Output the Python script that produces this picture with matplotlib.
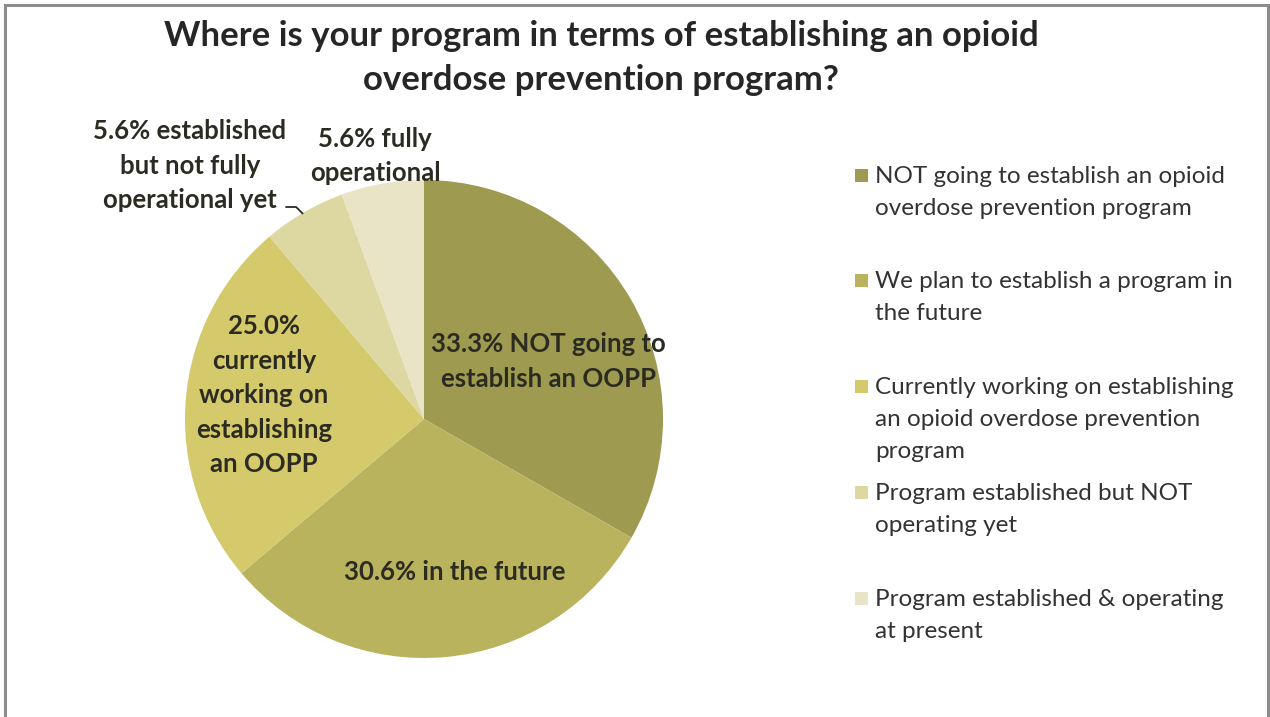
import matplotlib
matplotlib.use("Agg")
import matplotlib.pyplot as plt
from matplotlib.patches import Rectangle
import numpy as np

plt.rcParams['font.family'] = ['Lato', 'DejaVu Sans']

# Survey responses (percent of programs)
categories = [
    "NOT going to establish an opioid\noverdose prevention program",
    "We plan to establish a program in\nthe future",
    "Currently working on establishing\nan opioid overdose prevention\nprogram",
    "Program established but NOT\noperating yet",
    "Program established & operating\nat present",
]
values = [33.3, 30.6, 25.0, 5.6, 5.6]
slice_labels = [
    "33.3% NOT going to\nestablish an OOPP",
    "30.6% in the future",
    "25.0%\ncurrently\nworking on\nestablishing\nan OOPP",
    "5.6% established\nbut not fully\noperational yet",
    "5.6% fully\noperational",
]
colors = ["#9e9a4f", "#bab35e", "#d4c96b", "#ddd7a2", "#e8e4c5"]
title = "Where is your program in terms of establishing an opioid\noverdose prevention program?"

W, H = 1270, 717
fig = plt.figure(figsize=(W / 100, H / 100), dpi=100)
fig.patch.set_facecolor("white")

# Chart-area frame (gray, open at the bottom)
frame_c = "#8c8c8c"
for (x0, y0, x1, y1) in [(5, 5, 1268, 5), (5, 5, 5, 717), (1268, 5, 1268, 717)]:
    fig.add_artist(plt.Line2D([x0 / W, x1 / W], [1 - y0 / H, 1 - y1 / H],
                              color=frame_c, lw=2.2, transform=fig.transFigure))

# Pie axes
cx, cy, r = 424, 419, 239
ax = fig.add_axes([(cx - r) / W, (H - cy - r) / H, 2 * r / W, 2 * r / H])
ax.pie(values, colors=colors, startangle=90, counterclock=False, radius=1,
       wedgeprops=dict(linewidth=0))
ax.set_xlim(-1, 1)
ax.set_ylim(-1, 1)
ax.set_aspect("equal")
ax.axis("off")

text_c = "#2b2b22"
label_pos = [(0.52, 0.24), (0.13, -0.64), (-0.67, 0.10), (-0.98, 1.06), (-0.205, 1.10)]
for lab, (x, y) in zip(slice_labels, label_pos):
    ax.text(x, y, lab, ha="center", va="center", fontsize=18.5, fontweight="bold",
            color=text_c, linespacing=1.52, clip_on=False)

# Leader line for the small "established" slice
ax.plot([-0.58, -0.535, -0.506], [0.887, 0.887, 0.858], color=text_c, lw=1.3,
        clip_on=False, solid_capstyle="butt")

fig.text(601 / W, 1 - 58 / H, title, ha="center", va="center", fontsize=25,
         fontweight="bold", color="#262626", linespacing=1.5)

# Legend
leg_top = [175, 280, 386, 492, 598]
for lab, col, yt in zip(categories, colors, leg_top):
    fig.add_artist(Rectangle((855 / W, 1 - (yt + 7) / H), 13 / W, 13 / H,
                             facecolor=col, edgecolor="none", transform=fig.transFigure))
    fig.text(875 / W, 1 - (yt - 9) / H, lab, ha="left", va="top", fontsize=17.5,
             color="#333333", linespacing=1.66)

fig.savefig("out.png", dpi=100, facecolor="white")
